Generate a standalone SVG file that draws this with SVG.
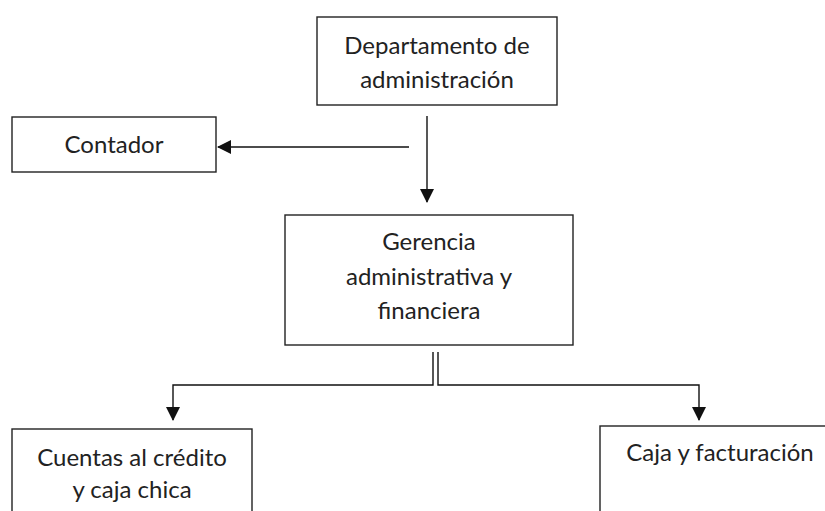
<svg xmlns="http://www.w3.org/2000/svg" width="825" height="511" viewBox="0 0 825 511">
<style>
.box{fill:#fff;stroke:#222;stroke-width:1.4}
.lbl{font-family:Lato,"Open Sans","Liberation Sans",sans-serif;font-size:24px;fill:#222;text-anchor:middle}
.con{fill:none;stroke:#111;stroke-width:1.4}
</style>
<defs>
<marker id="ah" viewBox="0 0 14 14" refX="13" refY="7" markerWidth="14" markerHeight="14" markerUnits="userSpaceOnUse" orient="auto">
<path d="M0,0 L14,7 L0,14 z" fill="#111"/>
</marker>
</defs>
<rect width="825" height="511" fill="#fff"/>
<g id="connectors">
<line class="con" x1="409" y1="147" x2="218" y2="147" marker-end="url(#ah)"/>
<line class="con" x1="427" y1="116" x2="427" y2="202" marker-end="url(#ah)"/>
<polyline class="con" points="433,352 433,385 173,385 173,420" marker-end="url(#ah)"/>
<polyline class="con" points="438,352 438,385 699,385 699,420" marker-end="url(#ah)"/>
</g>
<g id="node-departamento">
<rect class="box" x="317" y="17" width="240" height="88"/>
<text class="lbl" x="437" y="54">Departamento de</text>
<text class="lbl" x="437" y="88">administración</text>
</g>
<g id="node-contador">
<rect class="box" x="12" y="117" width="204" height="55"/>
<text class="lbl" x="114" y="153">Contador</text>
</g>
<g id="node-gerencia">
<rect class="box" x="285" y="215" width="288" height="130"/>
<text class="lbl" x="429" y="250">Gerencia</text>
<text class="lbl" x="429" y="285">administrativa y</text>
<text class="lbl" x="429" y="319">financiera</text>
</g>
<g id="node-cuentas">
<rect class="box" x="12" y="429" width="240" height="100"/>
<text class="lbl" x="132" y="466">Cuentas al crédito</text>
<text class="lbl" x="132" y="498">y caja chica</text>
</g>
<g id="node-caja">
<rect class="box" x="600" y="426" width="240" height="100"/>
<text class="lbl" x="720" y="461">Caja y facturación</text>
</g>
</svg>
